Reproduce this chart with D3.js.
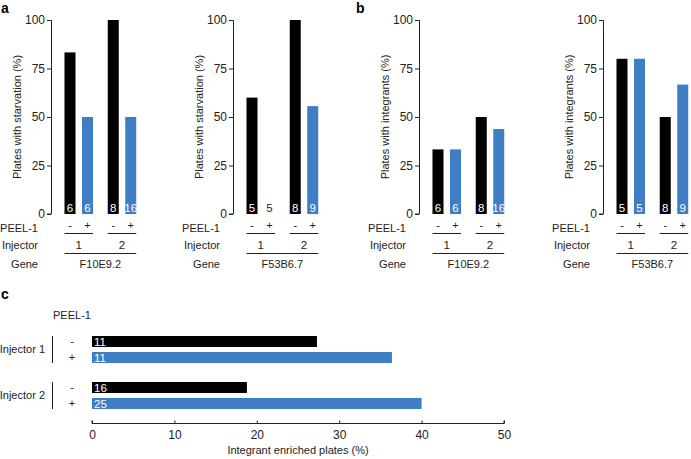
<!DOCTYPE html>
<html>
<head>
<meta charset="utf-8">
<script src="https://cdn.jsdelivr.net/npm/d3@7"></script>
<style>
  body { margin: 0; background: #fff; }
  svg { font-family: "Liberation Sans", Arial, sans-serif; }
  text { fill: #222; }
</style>
</head>
<body>
<div id="chart"></div>
<script>

// order of bars: injector 1 (-, +), injector 2 (-, +)
var peel = ["-", "+"];
var injectors = ["1", "2"];

var starvationF10E92 = [83.3, 50, 100, 50];
var starvationF53B67 = [60, 0, 100, 55.6];
var integrantsF10E92 = [33.3, 33.3, 50, 43.8];
var integrantsF53B67 = [80, 80, 50, 66.7];
var countsF10E92 = [6, 6, 8, 16];
var countsF53B67 = [5, 5, 8, 9];
var yTicks = [0, 25, 50, 75, 100];

// panel c
var injectorGroups = ["Injector 1", "Injector 2"];
var enrichedValues = [27.3, 36.4, 18.8, 40];
var enrichedCounts = [11, 11, 16, 25];
var enrichedTicks = [0, 10, 20, 30, 40, 50];

var BLACK = "#000", BLUE = "#3f7dc5", INK = "#222";

var width = 691, height = 459;

var svg = d3.select("#chart").append("svg")
    .attr("width", width)
    .attr("height", height);

var y = d3.scaleLinear().domain([0, 100]).range([214, 20]);

function barPanel(axisX, values, counts, gene, title) {
    var g = svg.append("g");

    var outer = d3.scaleBand().domain(injectors)
        .range([axisX + 13.5, axisX + 85.25]).paddingInner(0.341);
    var inner = d3.scaleBand().domain(peel)
        .range([0, outer.bandwidth()]).paddingInner(0.371);

    var rows = [];
    injectors.forEach(function (inj, i) {
        peel.forEach(function (p, j) {
            rows.push({ inj: inj, p: p, v: values[i * 2 + j], n: counts[i * 2 + j] });
        });
    });

    // y axis
    var ax = g.append("g")
        .attr("transform", "translate(" + axisX + ",0)")
        .call(d3.axisLeft(y).tickValues(yTicks).tickSize(4).tickPadding(2));
    ax.select(".domain").attr("d", "M-4,20.5H0.5V214H-4").attr("stroke", INK);
    ax.selectAll(".tick line").attr("stroke", INK);
    ax.selectAll(".tick text").attr("font-size", "12px").attr("fill", INK)
        .attr("font-family", "Liberation Sans, Arial, sans-serif");

    g.append("text")
        .attr("transform", "translate(" + (axisX - 34) + "," + 117 + ") rotate(-90)")
        .attr("text-anchor", "middle")
        .attr("dy", "0.35em")
        .attr("font-size", "11px")
        .text(title);

    var xPos = function (d) { return outer(d.inj) + inner(d.p); };

    g.selectAll("rect.bar").data(rows).enter().append("rect")
        .attr("class", "bar")
        .attr("x", xPos)
        .attr("width", inner.bandwidth())
        .attr("y", function (d) { return y(d.v); })
        .attr("height", function (d) { return y(0) - y(d.v); })
        .attr("fill", function (d) { return d.p === "-" ? BLACK : BLUE; });

    g.selectAll("text.n").data(rows).enter().append("text")
        .attr("class", "n")
        .attr("x", function (d) { return xPos(d) + inner.bandwidth() / 2; })
        .attr("y", y(0) - 2)
        .attr("text-anchor", "middle")
        .attr("font-size", "11.5px")
        .style("fill", function (d) { return d.v > 0 ? "#fff" : INK; })
        .text(function (d) { return d.n; });

    // PEEL-1 signs
    g.selectAll("text.sign").data(rows).enter().append("text")
        .attr("class", "sign")
        .attr("x", function (d) { return xPos(d) + inner.bandwidth() / 2; })
        .attr("y", 229)
        .attr("text-anchor", "middle")
        .attr("font-size", "11px")
        .text(function (d) { return d.p; });

    // injector underline + label
    injectors.forEach(function (inj) {
        g.append("line")
            .attr("x1", outer(inj)).attr("x2", outer(inj) + outer.bandwidth())
            .attr("y1", 233.5).attr("y2", 233.5)
            .attr("stroke", INK);
        g.append("text")
            .attr("x", outer(inj) + outer.bandwidth() / 2)
            .attr("y", 249)
            .attr("text-anchor", "middle")
            .attr("font-size", "11.5px")
            .text(inj);
    });

    var r = outer.range();
    g.append("line")
        .attr("x1", r[0]).attr("x2", outer("2") + outer.bandwidth())
        .attr("y1", 253.5).attr("y2", 253.5)
        .attr("stroke", INK);
    g.append("text")
        .attr("x", (r[0] + outer("2") + outer.bandwidth()) / 2)
        .attr("y", 268)
        .attr("text-anchor", "middle")
        .attr("font-size", "11px")
        .text(gene);

    // row labels
    var lx = axisX - 13;
    [["PEEL-1", 232], ["Injector", 249], ["Gene", 268]].forEach(function (l) {
        g.append("text")
            .attr("x", lx).attr("y", l[1])
            .attr("text-anchor", "end")
            .attr("font-size", "11px")
            .text(l[0]);
    });
}

barPanel(51, starvationF10E92, countsF10E92, "F10E9.2", "Plates with starvation (%)");
barPanel(233, starvationF53B67, countsF53B67, "F53B6.7", "Plates with starvation (%)");
barPanel(419, integrantsF10E92, countsF10E92, "F10E9.2", "Plates with integrants (%)");
barPanel(603, integrantsF53B67, countsF53B67, "F53B6.7", "Plates with integrants (%)");

// panel letters
[["a", 1, 13], ["b", 356, 13], ["c", 1, 299]].forEach(function (l) {
    svg.append("text")
        .attr("x", l[1]).attr("y", l[2])
        .attr("font-size", "14px")
        .attr("font-weight", "bold")
        .style("fill", "#000")
        .text(l[0]);
});

// ---- panel c ----
var gc = svg.append("g");
var xc = d3.scaleLinear().domain([0, 50]).range([92, 504]);
var groupY = d3.scaleBand().domain(injectorGroups).range([336, 409]).paddingInner(0.413);
var rowY = d3.scaleBand().domain(peel).range([0, groupY.bandwidth()]).paddingInner(0.3125);

var crows = [];
injectorGroups.forEach(function (grp, i) {
    peel.forEach(function (p, j) {
        crows.push({ grp: grp, p: p, v: enrichedValues[i * 2 + j], n: enrichedCounts[i * 2 + j] });
    });
});
var yPos = function (d) { return groupY(d.grp) + rowY(d.p); };

gc.selectAll("rect").data(crows).enter().append("rect")
    .attr("x", xc(0))
    .attr("y", yPos)
    .attr("width", function (d) { return xc(d.v) - xc(0); })
    .attr("height", rowY.bandwidth())
    .attr("fill", function (d) { return d.p === "-" ? BLACK : BLUE; });

gc.selectAll("text.n").data(crows).enter().append("text")
    .attr("class", "n")
    .attr("x", xc(0) + 2)
    .attr("y", function (d) { return yPos(d) + rowY.bandwidth() - 1; })
    .attr("font-size", "11.5px")
    .style("fill", "#fff")
    .text(function (d) { return d.n; });

gc.selectAll("text.sign").data(crows).enter().append("text")
    .attr("class", "sign")
    .attr("x", 72)
    .attr("y", function (d) { return yPos(d) + rowY.bandwidth() / 2; })
    .attr("dy", "0.35em")
    .attr("text-anchor", "middle")
    .attr("font-size", "11px")
    .text(function (d) { return d.p; });

injectorGroups.forEach(function (grp) {
    gc.append("line")
        .attr("x1", 52.5).attr("x2", 52.5)
        .attr("y1", groupY(grp)).attr("y2", groupY(grp) + groupY.bandwidth())
        .attr("stroke", INK);
    gc.append("text")
        .attr("x", 45)
        .attr("y", groupY(grp) + groupY.bandwidth() / 2)
        .attr("dy", "0.35em")
        .attr("text-anchor", "end")
        .attr("font-size", "11px")
        .text(grp);
});

gc.append("text")
    .attr("x", 53).attr("y", 319)
    .attr("font-size", "11px")
    .text("PEEL-1");

var axc = gc.append("g")
    .attr("transform", "translate(0,423.5)")
    .call(d3.axisBottom(xc).tickValues(enrichedTicks).tickSize(3).tickPadding(4));
axc.select(".domain").attr("stroke", INK).attr("d", "M92,-3V0H504V-3");
axc.selectAll(".tick line").attr("stroke", INK).attr("y1", -3).attr("y2", 0);
axc.selectAll(".tick text").attr("font-size", "12px").attr("fill", INK)
    .attr("font-family", "Liberation Sans, Arial, sans-serif");

gc.append("text")
    .attr("x", (xc(0) + xc(50)) / 2)
    .attr("y", 454)
    .attr("text-anchor", "middle")
    .attr("font-size", "11px")
    .text("Integrant enriched plates (%)");

</script>
</body>
</html>
